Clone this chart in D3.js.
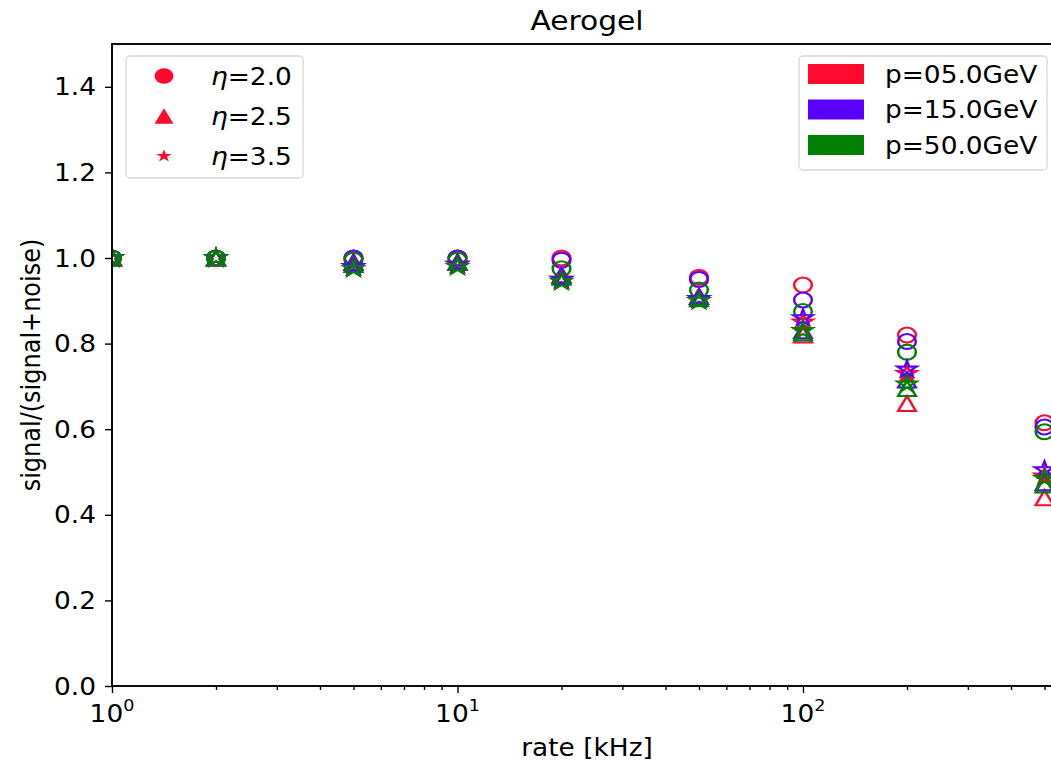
<!DOCTYPE html>
<html><head><meta charset="utf-8">
<script src="https://cdn.jsdelivr.net/npm/d3@7"></script>
<style>body{margin:0;background:#fff;overflow:hidden}svg{display:block;font-family:"DejaVu Sans",sans-serif}</style>
</head><body>
<script>
const rates = [1, 2, 5, 10, 20, 50, 100, 200, 500];
const momenta = ["p=05.0GeV", "p=15.0GeV", "p=50.0GeV"];
const colors = ["#ff0a2e", "#5a00ff", "#008000"];
const etaLabels = ["2.0", "2.5", "3.5"];
const etaShapes = ["circle", "triangle", "star"];
const yTicks = [0.0, 0.2, 0.4, 0.6, 0.8, 1.0, 1.2, 1.4];
const xTicks = [1, 10, 100];
// values[eta][p] -> per rate
const eta20_p05 = [1.0, 1.0, 1.0, 1.0, 1.0, 0.955, 0.937, 0.82, 0.615];
const eta20_p15 = [1.0, 1.0, 1.0, 1.0, 0.995, 0.95, 0.902, 0.805, 0.605];
const eta20_p50 = [1.0, 1.0, 0.995, 0.995, 0.975, 0.925, 0.875, 0.78, 0.594];
const eta25_p05 = [1.0, 1.0, 0.99, 0.99, 0.96, 0.91, 0.82, 0.66, 0.44];
const eta25_p15 = [1.0, 1.0, 0.99, 0.99, 0.96, 0.91, 0.83, 0.715, 0.475];
const eta25_p50 = [1.0, 1.0, 0.985, 0.99, 0.955, 0.905, 0.825, 0.695, 0.47];
const eta35_p05 = [1.0, 1.0, 0.98, 0.985, 0.95, 0.905, 0.85, 0.73, 0.49];
const eta35_p15 = [1.0, 1.0, 0.98, 0.985, 0.95, 0.905, 0.86, 0.74, 0.505];
const eta35_p50 = [1.0, 1.0, 0.975, 0.98, 0.945, 0.9, 0.83, 0.705, 0.485];
const values = [[eta20_p05, eta20_p15, eta20_p50],[eta25_p05, eta25_p15, eta25_p50],[eta35_p05, eta35_p15, eta35_p50]];

const W = 1051, H = 766;
const mL = 112, mR = 1062, mT = 44, mB = 686;
const SX = 1.1; // horizontal stretch of text
const svg = d3.select("body").append("svg").attr("width", W).attr("height", H);
const x = d3.scaleLog().domain([1, Math.pow(10, (mR-mL)/345.5)]).range([mL, mR]);
const y = d3.scaleLinear().domain([0, 1.5]).range([mB, mT]);

function markerPath(shape, s) {
  const h = s/2;
  if (shape === "circle") {
    return `M${h},0A${h},${h} 0 1,1 ${-h},0A${h},${h} 0 1,1 ${h},0Z`;
  }
  if (shape === "triangle") {
    return `M0,${-h}L${h},${h}L${-h},${h}Z`;
  }
  const pts = [];
  for (let i = 0; i < 10; i++) {
    const r = i % 2 === 0 ? h : h*0.381966;
    const a = -Math.PI/2 + i*Math.PI/5;
    pts.push([r*Math.cos(a), r*Math.sin(a)]);
  }
  return "M" + pts.map(p => p[0].toFixed(2)+","+p[1].toFixed(2)).join("L") + "Z";
}
const msize = {circle: 15, triangle: 15, star: 17};

function stext(parent, tx, ty, size, anchor, str, rot) {
  return parent.append("text")
    .attr("transform", `translate(${tx},${ty})` + (rot ? ` rotate(${rot})` : "") + (rot ? ` scale(1,${SX})` : ` scale(${SX},1)`))
    .attr("font-size", size).attr("text-anchor", anchor).attr("fill", "#000").text(str);
}

// data
svg.append("clipPath").attr("id","c").append("rect").attr("x",mL).attr("y",mT).attr("width",mR-mL).attr("height",mB-mT);
const plot = svg.append("g").attr("clip-path","url(#c)");
for (let e = 0; e < 3; e++) {
  for (let p = 0; p < 3; p++) {
    plot.selectAll(null).data(values[e][p].map((v,i)=>({r:rates[i], v})))
      .enter().append("path")
      .attr("d", markerPath(etaShapes[e], msize[etaShapes[e]]))
      .attr("transform", d => `translate(${x(d.r)},${y(d.v)}) scale(1.18,1)`)
      .attr("fill","none").attr("stroke", colors[p]).attr("stroke-width", 2.1);
  }
}

// axes
const gx = svg.append("g").attr("transform", `translate(0,${mB})`)
  .call(d3.axisBottom(x).tickValues(xTicks).tickSize(7).tickFormat(""));
const minor = [];
for (let d = 1; d <= 100; d *= 10) for (let k = 2; k <= 9; k++) minor.push(d*k);
svg.append("g").attr("transform", `translate(0,${mB})`)
  .call(d3.axisBottom(x).tickValues(minor.filter(v=>x(v)<=mR)).tickSize(4).tickFormat(""));
xTicks.forEach(d => {
  const t = stext(svg, x(d), mB + 36, 24, "middle", "", 0);
  t.append("tspan").text("10");
  t.append("tspan").attr("dy",-11).attr("font-size",16).text(Math.round(Math.log10(d)));
});
const gy = svg.append("g").attr("transform", `translate(${mL},0)`)
  .call(d3.axisLeft(y).tickValues(yTicks).tickSize(7).tickFormat(""));
yTicks.forEach(v => stext(svg, mL - 16, y(v) + 8.5, 24, "end", d3.format(".1f")(v), 0));
svg.selectAll(".domain").remove();
svg.selectAll(".tick line").attr("stroke","#000").attr("stroke-width",1.4);
svg.append("rect").attr("x",mL).attr("y",mT).attr("width",mR-mL).attr("height",mB-mT)
  .attr("fill","none").attr("stroke","#000").attr("stroke-width",1.9);

// labels
stext(svg, (mL+mR)/2, 30, 27, "middle", "Aerogel", 0);
stext(svg, (mL+mR)/2, 756, 24, "middle", "rate [kHz]", 0);
stext(svg, 40, 365, 24, "middle", "signal/(signal+noise)", -90);

// legend eta
const l1 = svg.append("g");
l1.append("rect").attr("x",126).attr("y",56).attr("width",177).attr("height",122).attr("rx",4)
  .attr("fill","#fff").attr("stroke","#d8d8d8").attr("stroke-width",1.3);
etaShapes.forEach((s,i)=>{
  const yy = 76 + i*40;
  l1.append("path").attr("d", markerPath(s, s==="star"?13.5:15.5)).attr("transform",`translate(164,${yy}) scale(1.22,1)`).attr("fill",colors[0]);
  const t = stext(l1, 211, yy + 8.5, 24, "start", "", 0);
  t.append("tspan").attr("font-style","italic").text("η");
  t.append("tspan").text("=" + etaLabels[i]);
});
// legend p
const l2 = svg.append("g");
l2.append("rect").attr("x",799).attr("y",56).attr("width",248).attr("height",114).attr("rx",4)
  .attr("fill","#fff").attr("stroke","#d8d8d8").attr("stroke-width",1.3);
momenta.forEach((m,i)=>{
  const yy = 74 + i*35.5;
  l2.append("rect").attr("x",808).attr("y",yy-10).attr("width",56).attr("height",20).attr("fill",colors[i]);
  stext(l2, 885, yy + 8.5, 24, "start", m, 0);
});
</script>
</body></html>
